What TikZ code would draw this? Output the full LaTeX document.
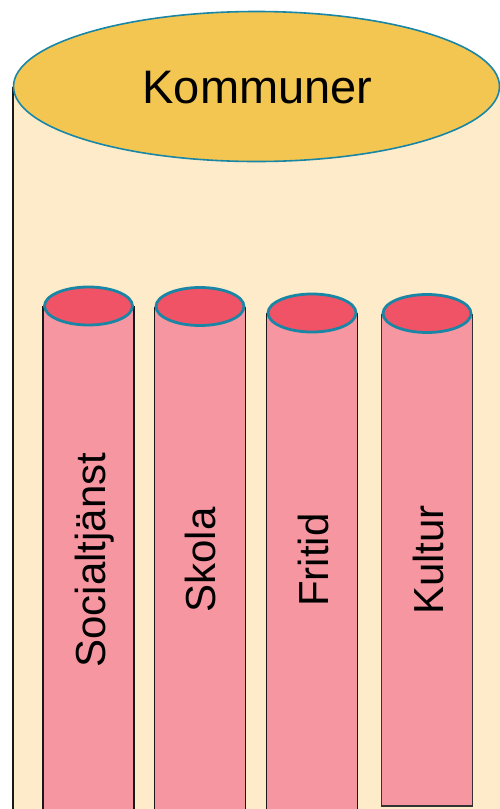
\documentclass[tikz,border=0pt]{standalone}
\usepackage{fontspec}
\setmainfont{Liberation Sans}
\usetikzlibrary{shapes.geometric}
\definecolor{cream}{HTML}{FDEBC9}
\definecolor{gold}{HTML}{F2C651}
\definecolor{tealline}{HTML}{1A86A6}
\definecolor{pinkbody}{HTML}{F696A1}
\definecolor{redtop}{HTML}{F05365}
\tikzset{
  pillarline/.style={draw=black!90, line width=1.6pt},
  pillartop/.style={ellipse, draw=tealline, fill=redtop, line width=2.8pt,
     minimum width=88pt, minimum height=38pt, inner sep=0pt},
  pillartext/.style={font=\fontsize{42}{42}\selectfont, rotate=90, anchor=base, inner sep=0pt},
}
\newcommand{\mypillar}[6]{%
  \fill[pinkbody] (#2-45.5,#3) rectangle (#2+45.5,#6);
  \draw[pillarline] (#2-45.5,#3) -- (#2-45.5,812) (#2+45.5,#3) -- (#2+45.5,812);
  \node[pillartop] (#1top) at (#2,#3) {};
  \node[pillartext] (#1) at (#5,560) {#4};
}
\begin{document}
\begin{tikzpicture}[x=1pt,y=-1pt]
\useasboundingbox (0,0) rectangle (500,809);
\clip (0,0) rectangle (500,809);
% big cylinder body
\fill[cream] (13,86.5) rectangle (505,812);
\draw[line width=1.8pt, black!90] (13,86.5) -- (13,812);
\node[ellipse, draw=tealline, fill=gold, line width=1.6pt, minimum width=486pt,
      minimum height=150pt, inner sep=0pt] (kommunertop) at (256.5,86.5) {};
\node[font=\fontsize{47}{47}\selectfont, anchor=base, inner sep=0pt] (kommuner) at (257.5,103) {Kommuner};
% pillars
\mypillar{soc}{88.5}{306}{Socialtjänst}{105}{812}
\mypillar{skola}{200}{306.5}{Skola}{215}{812}
\mypillar{fritid}{312}{313}{Fritid}{328}{812}
% Kultur with closed bottom
\fill[pinkbody] (381.5,313.5) rectangle (472.5,806);
\draw[draw=black!80, line width=1.2pt] (381.5,313.5) -- (381.5,806) -- (472.5,806) -- (472.5,313.5);
\node[pillartop] (kulturtop) at (427,313.5) {};
\node[pillartext] (kultur) at (443,560) {Kultur};
\end{tikzpicture}
\end{document}
